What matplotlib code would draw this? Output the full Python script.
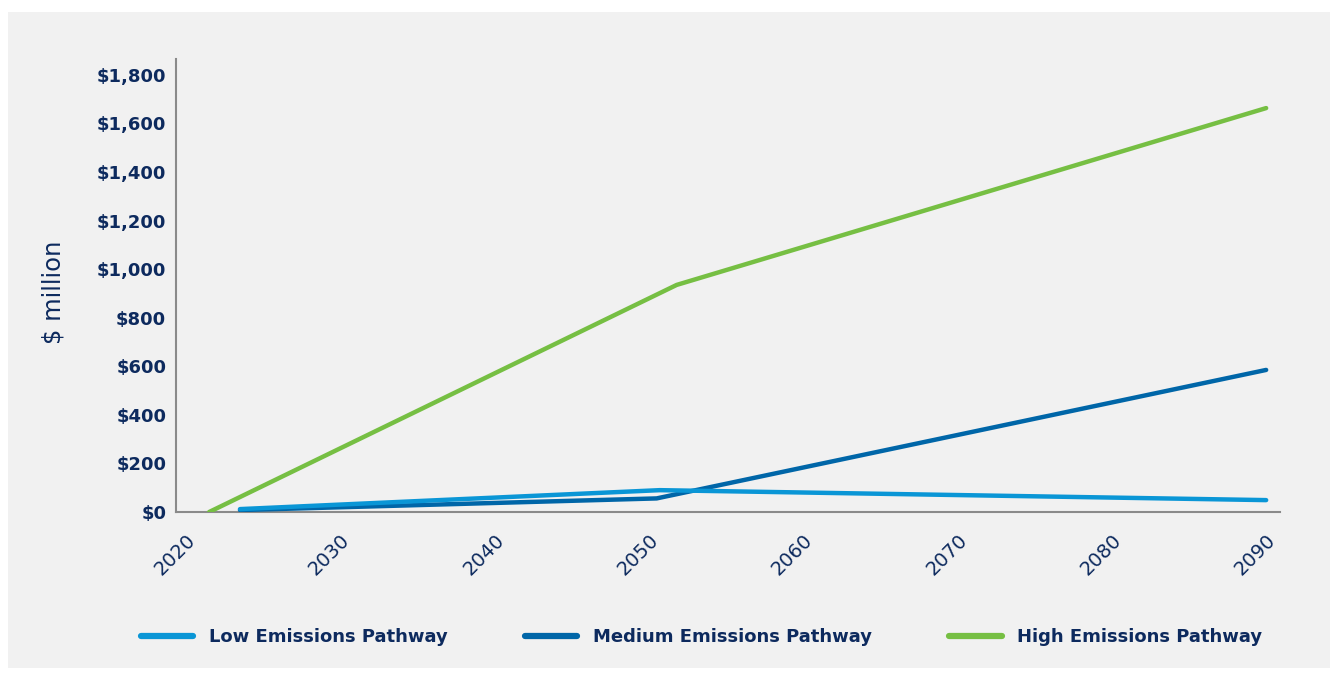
import matplotlib
matplotlib.use('Agg')
import matplotlib.pyplot as plt
from matplotlib.patches import Rectangle

# values ($ million)
low_years = [2023.5, 2050.7, 2090]
low_values = [12, 90, 49]
medium_years = [2023.5, 2050.5, 2090]
medium_values = [8, 56, 585]
high_years = [2021.5, 2051.8, 2090]
high_values = [0, 935, 1663]

x_ticks = [2020, 2030, 2040, 2050, 2060, 2070, 2080, 2090]
y_ticks = [0, 200, 400, 600, 800, 1000, 1200, 1400, 1600, 1800]

navy = '#0d2a5e'
bg = '#f1f1f1'

plt.rcParams['font.family'] = ['DejaVu Sans']

fig = plt.figure(figsize=(13.37, 6.73), dpi=100, facecolor='white')
fig.patches.append(Rectangle((0.006, 0.0074), 0.989, 0.975, transform=fig.transFigure,
                             facecolor=bg, edgecolor='none', zorder=-10))

ax = fig.add_axes([0.1316, 0.2392, 0.8258, 0.6731])
ax.set_facecolor(bg)

ax.plot(high_years, high_values, color='#76bf43', lw=3.2, solid_capstyle='round',
        label='High Emissions Pathway', zorder=3)
ax.plot(medium_years, medium_values, color='#0066a8', lw=3.2, solid_capstyle='round',
        label='Medium Emissions Pathway', zorder=3)
ax.plot(low_years, low_values, color='#0a96d6', lw=3.2, solid_capstyle='round',
        label='Low Emissions Pathway', zorder=4)

ax.set_xlim(2019.35, 2090.9)
ax.set_ylim(0, 1865)
ax.set_xticks(x_ticks)
ax.set_xticklabels([str(y) for y in x_ticks], rotation=45, ha='right', va='top',
                   rotation_mode='anchor', fontsize=14, color=navy)
ax.set_yticks(y_ticks)
ax.set_yticklabels(['${:,}'.format(v) for v in y_ticks], fontsize=13,
                   fontweight='bold', color=navy)
ax.tick_params(axis='both', length=0)
ax.tick_params(axis='x', pad=13)
ax.tick_params(axis='y', pad=7)

for side in ['top', 'right']:
    ax.spines[side].set_visible(False)
for side in ['left', 'bottom']:
    ax.spines[side].set_color('#8a8a8a')
    ax.spines[side].set_linewidth(1.5)

ax.set_ylabel('$ million', fontsize=17.5, color=navy, labelpad=20)
ax.yaxis.set_label_coords(-0.1, 0.485)

handles, labels = ax.get_legend_handles_labels()
order = [2, 1, 0]
leg = fig.legend([handles[i] for i in order], [labels[i] for i in order],
                 loc='center', bbox_to_anchor=(0.5247, 0.0535), ncol=3, frameon=False,
                 handlelength=2.9, handletextpad=0.85, columnspacing=4.3,
                 prop={'size': 13, 'weight': 'bold'})
for t in leg.get_texts():
    t.set_color(navy)
for h in leg.legend_handles:
    h.set_linewidth(4.5)

fig.savefig('out.png', dpi=100, facecolor=fig.get_facecolor())
